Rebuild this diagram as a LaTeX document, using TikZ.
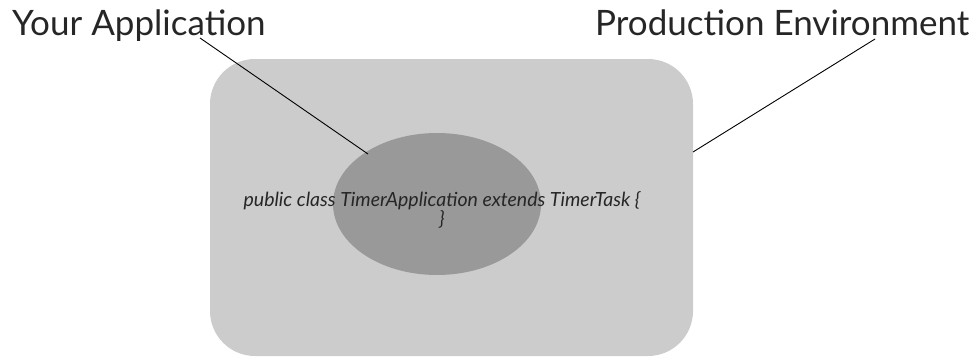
\documentclass[tikz,border=0pt]{standalone}
\usepackage{fontspec}
\setmainfont{Lato}
\usetikzlibrary{shapes.geometric}
\definecolor{envgray}{HTML}{CCCCCC}
\definecolor{appgray}{HTML}{999999}
\begin{document}
\begin{tikzpicture}[x=1pt,y=-1pt,
  title/.style={font=\fontsize{35}{40}\selectfont, text=black!85, inner sep=0pt, anchor=base west},
  envbox/.style={fill=envgray, draw=none, rounded corners=45pt, inner sep=0pt},
  appblob/.style={ellipse, fill=appgray, draw=none, inner sep=0pt},
  pointer/.style={draw=black, line width=0.9pt},
  code/.style={font=\itshape\fontsize{19.5}{17}\selectfont, align=center, inner sep=0pt, text=black!85}]
\useasboundingbox (0,0) rectangle (971,356);
% production environment
\node[envbox, minimum width=483pt, minimum height=297pt] (env) at (451.5,207.5) {};
% the application inside it
\node[appblob, minimum width=208pt, minimum height=142pt] (app) at (437,204) {};
\node[code] (src) at (442,210) {public class TimerApplication extends TimerTask \{\\\}};
% labels
\node[title] (yourapp) at (12,35) {Your Application};
\node[title] (prodenv) at (595,35) {Production Environment};
% pointer ends
\coordinate (yourappfoot) at (200,38);
\coordinate (prodenvfoot) at (875,39);
\coordinate (appedge) at (368,154);
\coordinate (envedge) at (693,152);
\draw[pointer] (yourappfoot) -- (appedge);
\draw[pointer] (prodenvfoot) -- (envedge);
\end{tikzpicture}
\end{document}
